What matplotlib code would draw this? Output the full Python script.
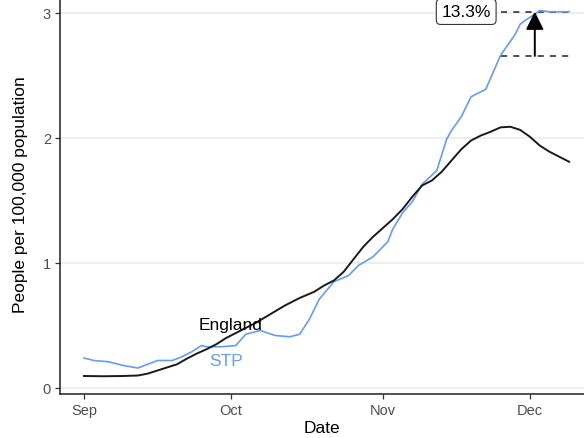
import numpy as np
import pandas as pd
import matplotlib
matplotlib.use("Agg")
import matplotlib.pyplot as plt

plt.rcParams['font.family'] = ['Liberation Sans', 'DejaVu Sans']

# England (black)
eng_dates = ["2020-09-01", "2020-09-05", "2020-09-09", "2020-09-12", "2020-09-14",
             "2020-09-16", "2020-09-18", "2020-09-20", "2020-09-22", "2020-09-24",
             "2020-09-26", "2020-09-28", "2020-09-30", "2020-10-03", "2020-10-06",
             "2020-10-09", "2020-10-12", "2020-10-15", "2020-10-18", "2020-10-20",
             "2020-10-22", "2020-10-24", "2020-10-26", "2020-10-28", "2020-10-30",
             "2020-11-01", "2020-11-03", "2020-11-05", "2020-11-07", "2020-11-09",
             "2020-11-11", "2020-11-13", "2020-11-15", "2020-11-17", "2020-11-19",
             "2020-11-21", "2020-11-23", "2020-11-25", "2020-11-27", "2020-11-29",
             "2020-12-01", "2020-12-03", "2020-12-05", "2020-12-07", "2020-12-09"]
eng_vals = [0.096, 0.094, 0.096, 0.10, 0.115,
            0.14, 0.165, 0.19, 0.235, 0.275,
            0.31, 0.35, 0.40, 0.46, 0.52,
            0.59, 0.66, 0.72, 0.77, 0.82,
            0.86, 0.93, 1.03, 1.13, 1.21,
            1.28, 1.35, 1.43, 1.53, 1.62,
            1.66, 1.73, 1.82, 1.91, 1.98,
            2.02, 2.05, 2.085, 2.09, 2.065,
            2.01, 1.94, 1.89, 1.85, 1.81]

# STP (blue)
stp_dates = ["2020-09-01", "2020-09-03", "2020-09-06", "2020-09-09", "2020-09-12",
             "2020-09-14", "2020-09-16", "2020-09-19", "2020-09-21", "2020-09-23",
             "2020-09-25", "2020-09-26", "2020-09-29", "2020-10-02", "2020-10-04",
             "2020-10-07", "2020-10-10", "2020-10-13", "2020-10-15", "2020-10-17",
             "2020-10-19", "2020-10-22", "2020-10-25", "2020-10-27", "2020-10-30",
             "2020-11-02", "2020-11-03", "2020-11-05", "2020-11-07", "2020-11-09",
             "2020-11-12", "2020-11-14", "2020-11-15", "2020-11-17", "2020-11-19",
             "2020-11-22", "2020-11-25", "2020-11-28", "2020-11-29", "2020-11-30",
             "2020-12-02", "2020-12-03", "2020-12-05", "2020-12-09"]
stp_vals = [0.24, 0.22, 0.21, 0.18, 0.16,
            0.19, 0.22, 0.22, 0.25, 0.29,
            0.34, 0.33, 0.33, 0.34, 0.43,
            0.46, 0.42, 0.41, 0.43, 0.55,
            0.71, 0.85, 0.90, 0.98, 1.05,
            1.17, 1.27, 1.40, 1.49, 1.63,
            1.74, 1.99, 2.06, 2.17, 2.33,
            2.39, 2.66, 2.83, 2.91, 2.94,
            2.99, 3.02, 3.01, 3.01]

# annotation of the rise
peak_val = 3.01
pct_rise = 13.3
ref_start = "2020-11-25"
ref_end = "2020-12-09"
arrow_date = "2020-12-02"
label_date = "2020-11-18"

y_ticks = [0, 1, 2, 3]
x_ticks = ["2020-09-01", "2020-10-01", "2020-11-01", "2020-12-01"]
x_ticklabels = ["Sep", "Oct", "Nov", "Dec"]

blue = '#6A9AF0'

fig = plt.figure(figsize=(5.84, 4.39), dpi=100)
ax = fig.add_axes([60 / 584, 44 / 439, 524 / 584, 418.5 / 439])

ax.plot(pd.to_datetime(stp_dates), stp_vals, color=blue, lw=1.2, zorder=3)
ax.plot(pd.to_datetime(eng_dates), eng_vals, color='#1a1a1a', lw=1.4, zorder=4,
        solid_joinstyle='round')

base = pd.Timestamp("2020-09-01")
ax.set_xlim(base - pd.Timedelta(days=24 / 4.9), base + pd.Timedelta(days=500 / 4.9))
ax.set_ylim(-0.048, 3.3)

for y in y_ticks:
    ax.axhline(y, color='#EBEBEB', lw=1.2, zorder=0)

# dashed reference lines and arrow
low_val = peak_val / (1 + pct_rise / 100)
xs = pd.to_datetime([ref_start, ref_end])
ax.plot(xs, [peak_val, peak_val], ls=(0, (4, 4)), color='#222222', lw=1.1, zorder=2)
ax.plot(xs, [low_val, low_val], ls=(0, (4, 4)), color='#222222', lw=1.1, zorder=2)
ad = pd.Timestamp(arrow_date)
ax.annotate("", xy=(ad, peak_val), xytext=(ad, low_val),
            arrowprops=dict(arrowstyle='-|>,head_width=0.45,head_length=0.9',
                            mutation_scale=12, color='black', lw=1.4,
                            shrinkA=0, shrinkB=0), zorder=5)
ax.text(pd.Timestamp(label_date), peak_val, f"{pct_rise}%", fontsize=12.5,
        ha='center', va='center', zorder=6,
        bbox=dict(boxstyle='round,pad=0.3,rounding_size=0.25', fc='white',
                  ec='#333333', lw=0.8))

ax.text(pd.Timestamp("2020-10-01"), 0.51, "England", fontsize=12.5,
        ha='center', va='center', color='black', zorder=6)
ax.text(pd.Timestamp("2020-09-30"), 0.216, "STP", fontsize=12.5,
        ha='center', va='center', color=blue, zorder=6)

ax.set_yticks(y_ticks)
ax.set_xticks(pd.to_datetime(x_ticks))
ax.set_xticklabels(x_ticklabels)
ax.tick_params(axis='both', colors='#333333', labelcolor='#4D4D4D',
               labelsize=10.5, length=3.5, width=0.9, pad=3)

for side in ['top', 'right']:
    ax.spines[side].set_visible(False)
for side in ['left', 'bottom']:
    ax.spines[side].set_color('#222222')
    ax.spines[side].set_linewidth(1.1)

ax.set_xlabel("Date", fontsize=12.5, labelpad=2)
ax.set_ylabel("People per 100,000 population", fontsize=12.5)
ax.yaxis.set_label_coords(-0.062, 0.478)

fig.savefig("out.png", dpi=100)
